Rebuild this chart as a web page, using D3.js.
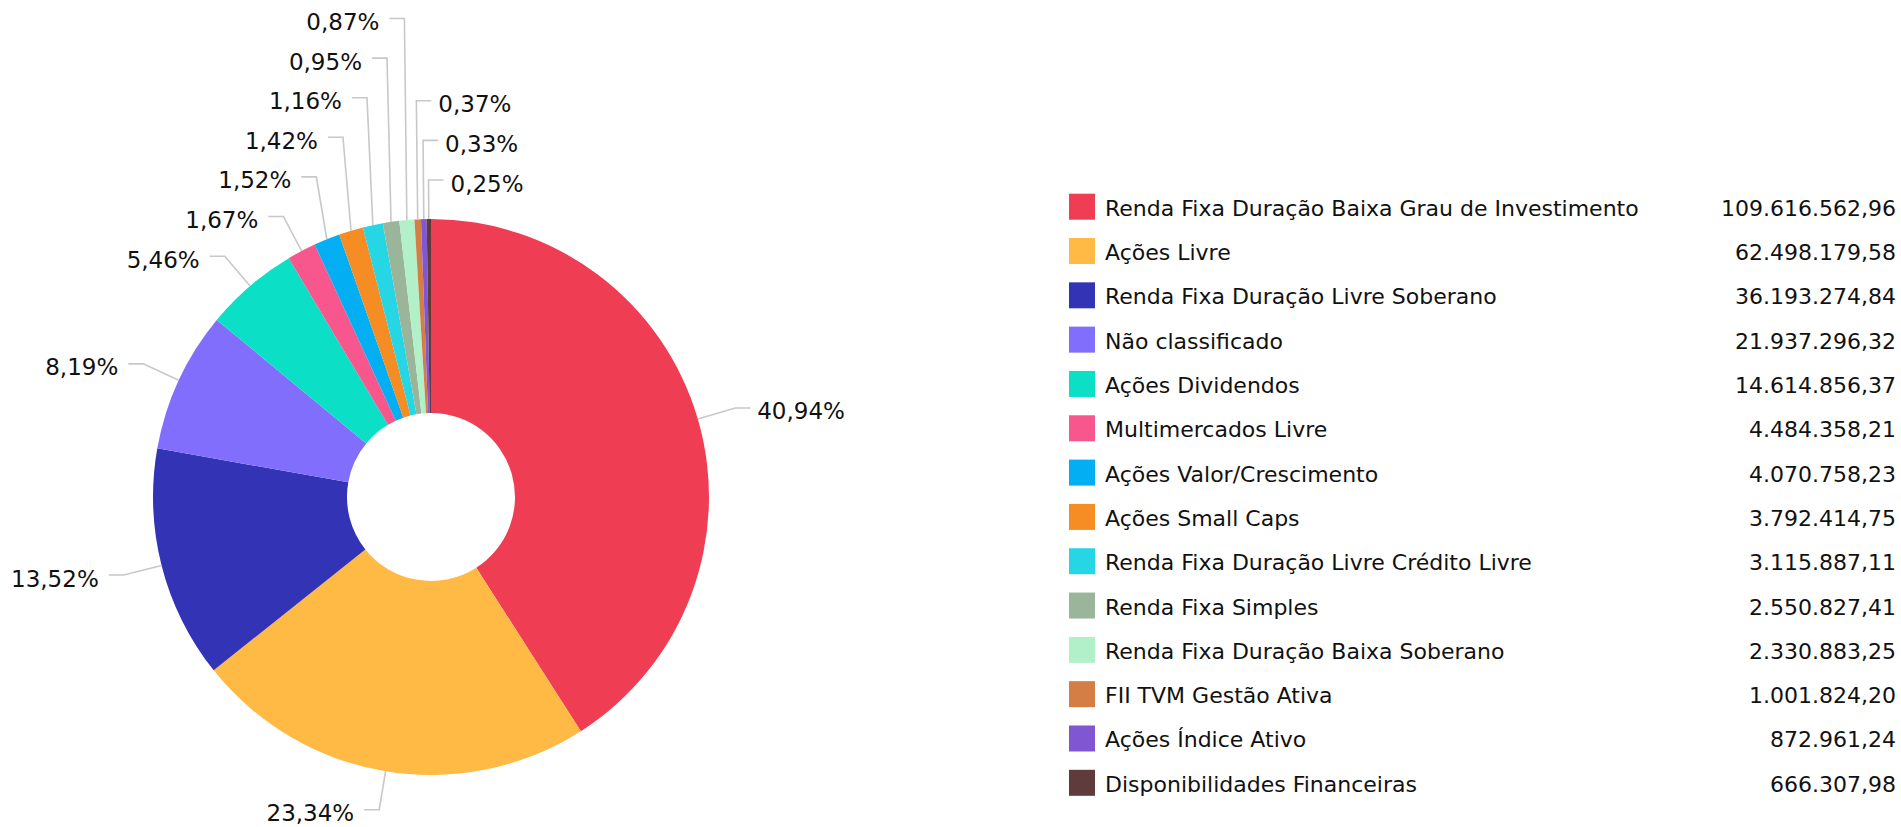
<!DOCTYPE html>
<html>
<head>
<meta charset="utf-8">
<script src="https://cdn.jsdelivr.net/npm/d3@7"></script>
<style>
  html, body { margin: 0; padding: 0; background: #ffffff; }
  svg { display: block; font-family: Verdana, "DejaVu Sans", sans-serif; }
</style>
</head>
<body>
<svg id="chart" width="1901" height="827"></svg>
<script>
// ---- Data ----
const categories = [
  "Renda Fixa Duração Baixa Grau de Investimento",
  "Ações Livre",
  "Renda Fixa Duração Livre Soberano",
  "Não classificado",
  "Ações Dividendos",
  "Multimercados Livre",
  "Ações Valor/Crescimento",
  "Ações Small Caps",
  "Renda Fixa Duração Livre Crédito Livre",
  "Renda Fixa Simples",
  "Renda Fixa Duração Baixa Soberano",
  "FII TVM Gestão Ativa",
  "Ações Índice Ativo",
  "Disponibilidades Financeiras"
];
const values = [
  109616562.96, 62498179.58, 36193274.84, 21937296.32, 14614856.37,
  4484358.21, 4070758.23, 3792414.75, 3115887.11, 2550827.41,
  2330883.25, 1001824.20, 872961.24, 666307.98
];
const colors = [
  "#ef3e54", "#ffba45", "#3333b5", "#826efd", "#0be0c7",
  "#f7578c", "#03aff2", "#f68c24", "#26d6e4", "#9bb59a",
  "#b2f0ca", "#d47e45", "#8156d3", "#5f3b3c"
];

// ---- Setup ----
const svg = d3.select("#chart");
const cx = 431, cy = 497, outerR = 278, innerR = 84;
const locale = d3.formatLocale({ decimal: ",", thousands: ".", grouping: [3], currency: ["R$", ""] });
const fmtValue = locale.format(",.2f");
const fmtPct = locale.format(".2f");
const total = d3.sum(values);

const data = categories.map((c, i) => ({ name: c, value: values[i], color: colors[i] }));

const pie = d3.pie().value(d => d.value).sort(null).startAngle(0).endAngle(2 * Math.PI);
const arcs = pie(data);
const arc = d3.arc().innerRadius(innerR).outerRadius(outerR);

const g = svg.append("g").attr("transform", `translate(${cx},${cy})`);
g.selectAll("path.slice")
  .data(arcs)
  .join("path")
  .attr("class", "slice")
  .attr("d", arc)
  .attr("fill", d => d.data.color);

// ---- Label layout ----
const Rlab = 317, Rshift = 306, spacing = 39.6, minTop = 10, seg = 15;
const labels = arcs.map(a => {
  const m = (a.startAngle + a.endAngle) / 2;
  return {
    a: m,
    pct: a.value / total * 100,
    edgeX: cx + outerR * Math.sin(m),
    edgeY: cy - outerR * Math.cos(m),
    natX: cx + Rlab * Math.sin(m),
    natY: cy - Rlab * Math.cos(m),
    side: Math.sin(m) >= 0 ? 1 : -1
  };
});

function stack(list) {
  // list ordered top to bottom; push upward from bottom
  for (let i = list.length - 1; i >= 0; i--) {
    list[i].y = list[i].natY;
    if (i < list.length - 1) list[i].y = Math.min(list[i].y, list[i + 1].y - spacing);
  }
}
const rightKey = l => (l.a > Math.PI ? l.a - 2 * Math.PI : l.a);

let left = labels.filter(l => l.side < 0).sort((p, q) => q.a - p.a);
stack(left);
left.filter(l => l.y < minTop).forEach(l => l.side = 1);
left = left.filter(l => l.side < 0);
stack(left);
const right = labels.filter(l => l.side > 0).sort((p, q) => rightKey(p) - rightKey(q));
stack(right);

labels.forEach(l => {
  const shifted = Math.abs(l.y - l.natY) > 1;
  l.elbowX = shifted ? cx + Rshift * Math.sin(l.a) : l.natX;
  l.endX = l.elbowX + l.side * seg;
});

svg.append("g").selectAll("polyline")
  .data(labels)
  .join("polyline")
  .attr("points", l => `${l.edgeX},${l.edgeY} ${l.elbowX},${l.y} ${l.endX},${l.y}`)
  .attr("fill", "none")
  .attr("stroke", "#c8c8c8")
  .attr("stroke-width", 1.6);

svg.append("g").selectAll("text")
  .data(labels)
  .join("text")
  .attr("x", l => l.side > 0 ? l.endX + 7 : l.endX - 10)
  .attr("y", l => l.y + 11.5)
  .attr("text-anchor", l => l.side > 0 ? "start" : "end")
  .attr("font-size", 23)
  .attr("fill", "#111")
  .text(l => fmtPct(l.pct) + "%");

// ---- Legend ----
const rowY = d3.scalePoint().domain(categories).range([206.7, 782.8]);
const leg = svg.append("g").selectAll("g")
  .data(data)
  .join("g")
  .attr("transform", d => `translate(0,${rowY(d.name)})`);
leg.append("rect")
  .attr("x", 1069).attr("y", -13)
  .attr("width", 26).attr("height", 26)
  .attr("fill", d => d.color);
leg.append("text")
  .attr("x", 1105).attr("y", 9)
  .attr("font-size", 22).attr("fill", "#111")
  .text(d => d.name);
leg.append("text")
  .attr("x", 1896).attr("y", 9)
  .attr("text-anchor", "end")
  .attr("font-size", 22).attr("fill", "#111")
  .text(d => fmtValue(d.value));
</script>
</body>
</html>
